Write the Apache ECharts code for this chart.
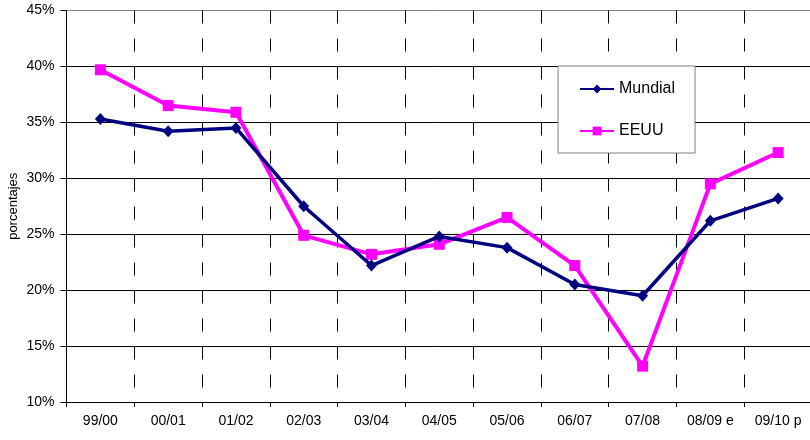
<!DOCTYPE html>
<html>
<head>
<meta charset="utf-8">
<script src="https://cdn.jsdelivr.net/npm/echarts@6/dist/echarts.min.js"></script>
<style>
html,body{margin:0;padding:0;background:#fff;}
#chart{width:810px;height:440px;}
</style>
</head>
<body>
<div id="chart"></div>
<script>
const categories = ['99/00','00/01','01/02','02/03','03/04','04/05','05/06','06/07','07/08','08/09 e','09/10 p'];
const mundial = [35.3, 34.2, 34.5, 27.5, 22.2, 24.8, 23.8, 20.5, 19.5, 26.2, 28.2];
const eeuu = [39.7, 36.5, 35.9, 24.9, 23.2, 24.1, 26.5, 22.2, 13.2, 29.5, 32.3];
const yTicks = {min: 10, max: 45, interval: 5};
const FONT = '"Liberation Sans", Arial, sans-serif';

const chart = echarts.init(document.getElementById('chart'));
chart.setOption({
  animation: false,
  backgroundColor: '#ffffff',
  textStyle: {fontFamily: FONT},
  grid: {left: 66.5, top: 10.5, right: -2, bottom: 38, containLabel: false, outerBoundsMode: 'none'},
  legend: {
    left: 558, top: 66,
    orient: 'vertical',
    backgroundColor: '#ffffff',
    borderColor: '#808080', borderWidth: 1,
    padding: [15, 20, 14, 21],
    itemGap: 26,
    itemWidth: 34, itemHeight: 11,
    textStyle: {fontFamily: FONT, fontSize: 16, color: '#000'},
    data: ['Mundial', 'EEUU']
  },
  xAxis: {
    type: 'category',
    data: categories,
    boundaryGap: true,
    axisLine: {lineStyle: {color: '#000', width: 1}},
    axisTick: {show: true, length: 5, lineStyle: {color: '#000'}},
    axisLabel: {fontFamily: FONT, fontSize: 14, color: '#000', margin: 12, interval: 0},
    splitLine: {show: true, interval: 0, lineStyle: {color: '#000', width: 1, type: [13, 15]}}
  },
  yAxis: {
    type: 'value',
    min: yTicks.min, max: yTicks.max, interval: yTicks.interval,
    name: 'porcentajes',
    nameLocation: 'middle',
    nameRotate: 90,
    nameGap: 47,
    nameMoveOverlap: false,
    nameTextStyle: {fontFamily: FONT, fontSize: 13, color: '#000'},
    axisLine: {show: true, lineStyle: {color: '#000', width: 1}},
    axisTick: {show: true, length: 6, lineStyle: {color: '#000'}},
    axisLabel: {fontFamily: FONT, fontSize: 14, color: '#000', margin: 12, formatter: '{value}%'},
    splitLine: {show: true, lineStyle: {color: ['#000','#000','#000','#000','#000','#000','#000','#808080'], width: 1}}
  },
  series: [
    {
      name: 'Mundial', type: 'line', data: mundial,
      symbol: 'diamond', symbolSize: [11, 12],
      lineStyle: {color: '#000080', width: 3.5},
      itemStyle: {color: '#000080'},
      z: 3
    },
    {
      name: 'EEUU', type: 'line', data: eeuu,
      symbol: 'rect', symbolSize: 11,
      lineStyle: {color: '#FF00FF', width: 4},
      itemStyle: {color: '#FF00FF'},
      z: 2
    }
  ]
});
</script>
</body>
</html>
